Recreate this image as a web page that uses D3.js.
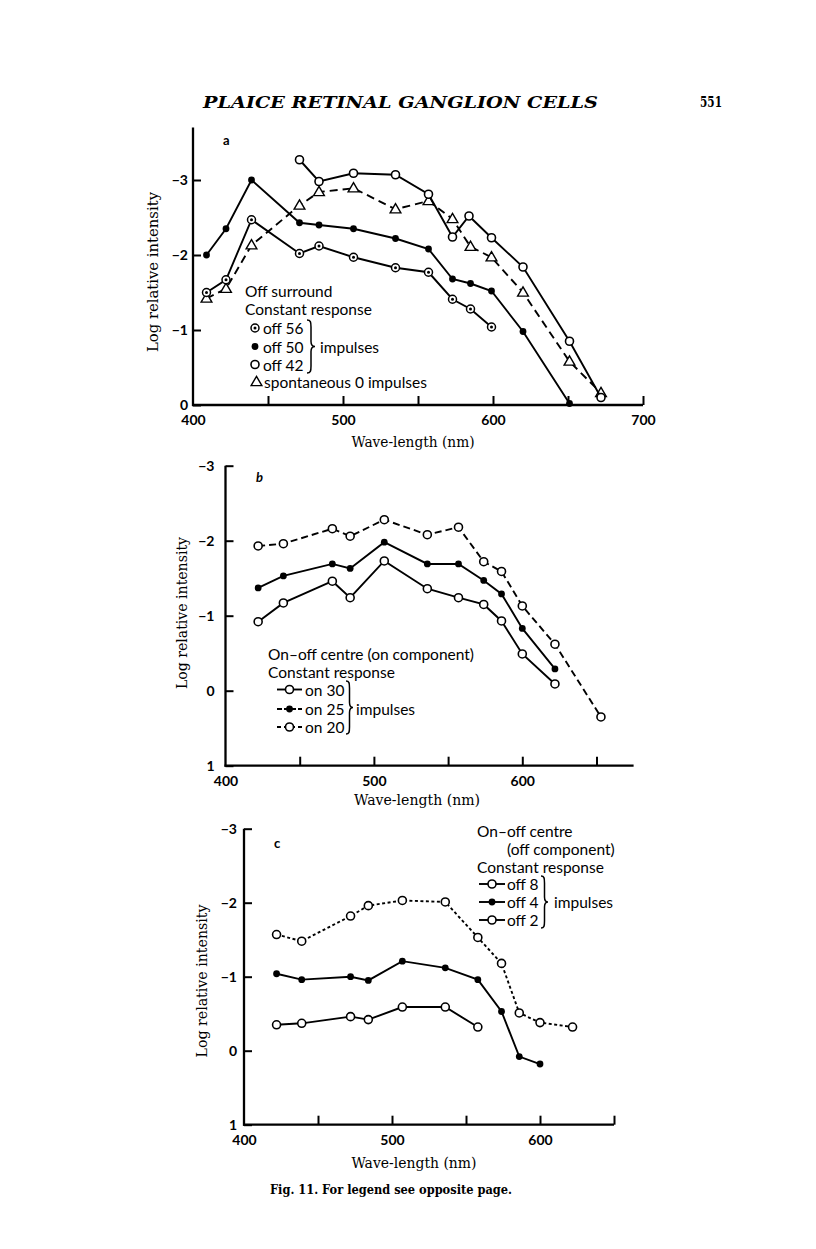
<!DOCTYPE html>
<html><head><meta charset="utf-8">
<script src="https://cdn.jsdelivr.net/npm/d3@7"></script>
<style>body{margin:0;background:#fff}svg{display:block}</style>
</head><body>
<svg id="fig" width="816" height="1249"></svg>
<script>
// ---------- DATA ----------
// Panel a : Off surround, constant response
const aOff56X = [409,422,439,471,484,507,535,557,573,585,599];
const aOff56Y = [-1.50,-1.67,-2.47,-2.02,-2.12,-1.97,-1.83,-1.77,-1.41,-1.28,-1.04];
const aOff50X = [409,422,439,471,484,507,535,557,573,585,599,620,651];
const aOff50Y = [-2.00,-2.35,-3.00,-2.43,-2.40,-2.35,-2.22,-2.08,-1.68,-1.62,-1.52,-0.98,-0.02];
const aOff42X = [471,484,507,535,557,573,584,599,620,651,672];
const aOff42Y = [-3.27,-2.98,-3.09,-3.07,-2.81,-2.24,-2.52,-2.23,-1.84,-0.85,-0.10];
const aSponX  = [409,422,439,471,484,507,535,557,573,585,599,620,651,672];
const aSponY  = [-1.42,-1.55,-2.13,-2.66,-2.84,-2.89,-2.61,-2.72,-2.48,-2.11,-1.97,-1.50,-0.58,-0.16];

// Panel b : On-off centre (on component)
const bOn30X = [422,439,472,484,507,536,557,574,586,600,622];
const bOn30Y = [-0.92,-1.17,-1.46,-1.24,-1.73,-1.36,-1.24,-1.15,-0.93,-0.49,-0.09];
const bOn25X = [422,439,472,484,507,536,557,574,586,600,622];
const bOn25Y = [-1.37,-1.53,-1.69,-1.63,-1.98,-1.69,-1.69,-1.47,-1.29,-0.83,-0.29];
const bOn20X = [422,439,472,484,507,536,557,574,586,600,622,653];
const bOn20Y = [-1.93,-1.96,-2.16,-2.06,-2.28,-2.08,-2.18,-1.72,-1.59,-1.13,-0.62,0.35];

// Panel c : On-off centre (off component)
const cOff2X = [422,439,472,484,507,536,558];
const cOff2Y = [-0.35,-0.37,-0.46,-0.42,-0.59,-0.59,-0.32];
const cOff4X = [422,439,472,484,507,536,558,574,586,600];
const cOff4Y = [-1.04,-0.96,-1.00,-0.95,-1.21,-1.12,-0.96,-0.53,0.08,0.18];
const cOff8X = [422,439,472,484,507,536,558,574,586,600,622];
const cOff8Y = [-1.57,-1.48,-1.82,-1.96,-2.03,-2.01,-1.53,-1.18,-0.51,-0.38,-0.32];

// Tick values / labels
const aXTicks = [450,500,550,600,650,700];
const aXLabels = [400,500,600,700];
const aYTicks = [-3,-2,-1,0];
const bcXTicks = [450,500,550,600,650];
const bcXLabels = [400,500,600];
const bcYTicks = [-3,-2,-1,0,1];

// ---------- DRAWING ----------
const svg = d3.select("#fig");
const SANS = "Lato, 'Open Sans', sans-serif";
const SERIF = "'DejaVu Serif', 'Liberation Serif', serif";
const LEG = 15.5;
const zip = (xs, ys) => xs.map((x, i) => [x, ys[i]]);
const fmtY = d => d < 0 ? "\u2212" + Math.abs(d) : String(d);

function marker(g, kind, cx, cy) {
  if (kind === "open") {
    g.append("circle").attr("cx", cx).attr("cy", cy).attr("r", 4)
      .attr("fill", "#fff").attr("stroke", "#000").attr("stroke-width", 1.6);
  } else if (kind === "filled") {
    g.append("circle").attr("cx", cx).attr("cy", cy).attr("r", 3.4).attr("fill", "#000");
  } else if (kind === "ring") {
    g.append("circle").attr("cx", cx).attr("cy", cy).attr("r", 4)
      .attr("fill", "#fff").attr("stroke", "#000").attr("stroke-width", 1.5);
    g.append("circle").attr("cx", cx).attr("cy", cy).attr("r", 1.5).attr("fill", "#000");
  } else if (kind === "tri") {
    g.append("path").attr("d", d3.symbol(d3.symbolTriangle, 50)())
      .attr("transform", `translate(${cx},${cy + 0.5})`)
      .attr("fill", "#fff").attr("stroke", "#000").attr("stroke-width", 1.4);
  }
}

function series(g, x, y, xs, ys, kind, dash) {
  const pts = zip(xs, ys);
  g.append("path").datum(pts)
    .attr("d", d3.line().x(d => x(d[0])).y(d => y(d[1])))
    .attr("fill", "none").attr("stroke", "#000").attr("stroke-width", 1.9)
    .attr("stroke-dasharray", dash || null);
  pts.forEach(p => marker(g, kind, x(p[0]), y(p[1])));
}

function brace(g, x, y1, y2, w) {
  const m = (y1 + y2) / 2, h = x + w * 0.5;
  g.append("path").attr("d",
    `M${x},${y1} C${x + w * 0.45},${y1} ${h},${y1 + 2} ${h},${y1 + 7} L${h},${m - 5} ` +
    `C${h},${m - 1.5} ${x + w * 0.7},${m} ${x + w},${m} C${x + w * 0.7},${m} ${h},${m + 1.5} ${h},${m + 5} ` +
    `L${h},${y2 - 7} C${h},${y2 - 2} ${x + w * 0.45},${y2} ${x},${y2}`)
    .attr("fill", "none").attr("stroke", "#000").attr("stroke-width", 1.5);
}

function text(g, x, y, s, opts = {}) {
  const t = g.append("text").attr("x", x).attr("y", y).text(s)
    .attr("font-family", opts.family || SANS)
    .attr("font-size", opts.size || LEG)
    .attr("font-weight", opts.weight || "normal")
    .attr("font-style", opts.style || "normal")
    .attr("text-anchor", opts.anchor || "start")
    .attr("dominant-baseline", "central")
    .attr("fill", "#000");
  if (opts.len) t.attr("textLength", opts.len).attr("lengthAdjust", "spacingAndGlyphs");
  if (opts.rotate) t.attr("transform", `rotate(-90,${x},${y})`);
  return t;
}

function axes(g, x, y, cfg) {
  const x0 = x(cfg.xMin), yBase = y(cfg.yBase);
  g.append("line").attr("x1", x0).attr("x2", x0).attr("y1", y(cfg.yTop)).attr("y2", yBase + 1)
    .attr("stroke", "#000").attr("stroke-width", 2.3);
  g.append("line").attr("x1", x0 - 1).attr("x2", x(cfg.xEnd)).attr("y1", yBase).attr("y2", yBase)
    .attr("stroke", "#000").attr("stroke-width", 2.3);
  const xa = g.append("g").attr("transform", `translate(0,${yBase})`)
    .call(d3.axisBottom(x).tickValues(cfg.xTicks).tickSizeInner(-9).tickSizeOuter(0).tickFormat(""));
  xa.select(".domain").remove();
  xa.selectAll(".tick line").attr("stroke-width", 2);
  const xl = g.append("g").attr("transform", `translate(0,${yBase})`)
    .call(d3.axisBottom(x).tickValues(cfg.xLabels).tickSize(0).tickPadding(cfg.xPad).tickFormat(d3.format("d")));
  xl.select(".domain").remove();
  xl.selectAll("text").attr("font-family", SANS).attr("font-size", 14).attr("font-weight", 700);
  const ya = g.append("g").attr("transform", `translate(${x0},0)`)
    .call(d3.axisLeft(y).tickValues(cfg.yTicks).tickSizeInner(-8).tickSizeOuter(0)
      .tickPadding(cfg.yPad).tickFormat(fmtY));
  ya.select(".domain").remove();
  ya.selectAll(".tick line").attr("stroke-width", 2);
  ya.selectAll("text").attr("font-family", SANS).attr("font-size", 14).attr("font-weight", 700);
}

// Header
text(svg, 203, 102, "PLAICE RETINAL GANGLION CELLS",
  { family: SERIF, size: 17, style: "italic", weight: "bold", len: 395 });
text(svg, 722, 102, "551", { family: SERIF, size: 15, weight: "bold", anchor: "end", len: 22 });

// ---------- Panel a ----------
{
  const g = svg.append("g");
  const x = d3.scaleLinear().domain([400, 700]).range([193, 643]);
  const y = d3.scaleLinear().domain([0, -3]).range([405, 180]);
  axes(g, x, y, { xMin: 400, xEnd: 700, yBase: 0, yTop: -3.7, xTicks: aXTicks, xLabels: aXLabels,
    yTicks: aYTicks, xPad: 10, yPad: 5 });
  series(g, x, y, aSponX, aSponY, "tri", "8,5");
  series(g, x, y, aOff56X, aOff56Y, "ring");
  series(g, x, y, aOff50X, aOff50Y, "filled");
  series(g, x, y, aOff42X, aOff42Y, "open");
  text(g, 223, 140, "a", { size: 13, weight: 700 });
  text(g, 153, 272, "Log relative intensity", { family: SERIF, size: 14, rotate: true, anchor: "middle", len: 160 });
  text(g, 413, 442, "Wave-length (nm)", { family: SERIF, size: 14, anchor: "middle", len: 123 });
  text(g, 245, 291, "Off surround");
  text(g, 245, 308.5, "Constant response");
  marker(g, "ring", 255, 328); text(g, 263, 328, "off 56");
  marker(g, "filled", 255, 346.5); text(g, 263, 346.5, "off 50");
  marker(g, "open", 255, 364.5); text(g, 263, 364.5, "off 42");
  marker(g, "tri", 256.5, 382); text(g, 264, 382, "spontaneous 0 impulses");
  brace(g, 307, 320, 373, 8);
  text(g, 320, 346.5, "impulses");
}

// ---------- Panel b ----------
{
  const g = svg.append("g");
  const x = d3.scaleLinear().domain([400, 650]).range([225.5, 596.5]);
  const y = d3.scaleLinear().domain([1, -3]).range([765.7, 465.7]);
  axes(g, x, y, { xMin: 400, xEnd: 675, yBase: 1, yTop: -3, xTicks: bcXTicks, xLabels: bcXLabels,
    yTicks: bcYTicks, xPad: 10, yPad: 11 });
  series(g, x, y, bOn20X, bOn20Y, "open", "7,4");
  series(g, x, y, bOn25X, bOn25Y, "filled");
  series(g, x, y, bOn30X, bOn30Y, "open");
  text(g, 256, 477, "b", { size: 13, weight: 700, style: "italic" });
  text(g, 182, 613, "Log relative intensity", { family: SERIF, size: 14, rotate: true, anchor: "middle", len: 152 });
  text(g, 417, 800, "Wave-length (nm)", { family: SERIF, size: 14, anchor: "middle", len: 126 });
  text(g, 268, 654, "On\u2013off centre (on component)");
  text(g, 268, 672, "Constant response");
  const rows = [["open", null, "on 30", 689.5], ["filled", "5,2", "on 25", 709], ["open", "4,3", "on 20", 727]];
  rows.forEach(([k, dash, lab, yy]) => {
    g.append("line").attr("x1", 277).attr("x2", 302).attr("y1", yy).attr("y2", yy)
      .attr("stroke", "#000").attr("stroke-width", 1.9).attr("stroke-dasharray", dash);
    marker(g, k, 289.5, yy);
    text(g, 305, yy, lab);
  });
  brace(g, 346, 681, 734, 7);
  text(g, 356, 709, "impulses");
}

// ---------- Panel c ----------
{
  const g = svg.append("g");
  const x = d3.scaleLinear().domain([400, 650]).range([244, 614]);
  const y = d3.scaleLinear().domain([1, -3]).range([1124.7, 828.7]);
  axes(g, x, y, { xMin: 400, xEnd: 650, yBase: 1, yTop: -3, xTicks: bcXTicks, xLabels: bcXLabels,
    yTicks: bcYTicks, xPad: 10, yPad: 7 });
  series(g, x, y, cOff8X, cOff8Y, "open", "3,2.5");
  series(g, x, y, cOff4X, cOff4Y, "filled");
  series(g, x, y, cOff2X, cOff2Y, "open");
  text(g, 274, 843, "c", { size: 13, weight: 700 });
  text(g, 202, 981, "Log relative intensity", { family: SERIF, size: 14, rotate: true, anchor: "middle", len: 153 });
  text(g, 414, 1163, "Wave-length (nm)", { family: SERIF, size: 14, anchor: "middle", len: 125 });
  text(g, 477, 831, "On\u2013off centre");
  text(g, 507, 849, "(off component)");
  text(g, 477, 867, "Constant response");
  const rows = [["open", "off 8", 884], ["filled", "off 4", 902], ["open", "off 2", 920]];
  rows.forEach(([k, lab, yy]) => {
    g.append("line").attr("x1", 479).attr("x2", 505).attr("y1", yy).attr("y2", yy)
      .attr("stroke", "#000").attr("stroke-width", 1.9);
    marker(g, k, 492, yy);
    text(g, 507, yy, lab);
  });
  brace(g, 541, 876, 928, 7);
  text(g, 554, 902, "impulses");
}

// Caption
text(svg, 391, 1189, "Fig. 11. For legend see opposite page.",
  { family: SERIF, size: 13, weight: "bold", anchor: "middle", len: 242 });
</script>
</body></html>
